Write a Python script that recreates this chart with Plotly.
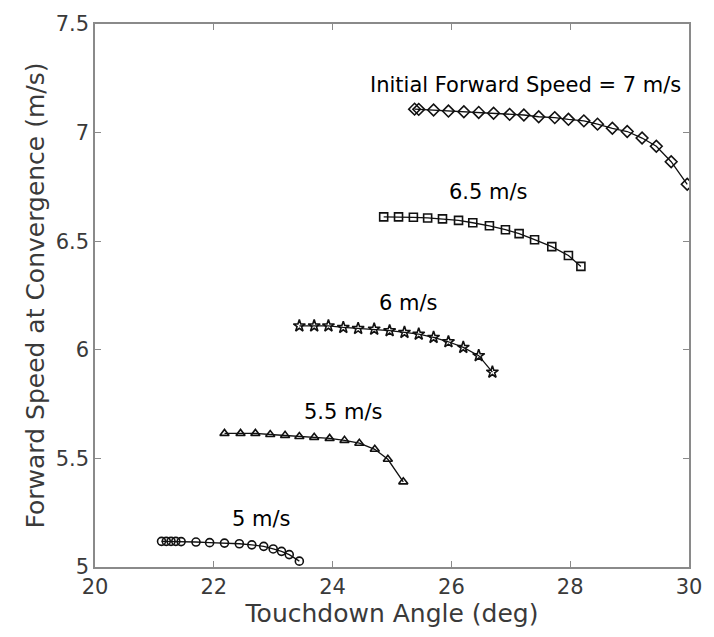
import plotly.graph_objects as go

# ---- data ----
x_7 = [25.38, 25.45, 25.70, 25.95, 26.21, 26.46, 26.71, 26.98, 27.22, 27.47,
       27.74, 27.97, 28.23, 28.46, 28.71, 28.96, 29.21, 29.45, 29.70, 29.97]
y_7 = [7.108, 7.107, 7.104, 7.099, 7.096, 7.093, 7.089, 7.084, 7.081, 7.073,
       7.069, 7.061, 7.054, 7.039, 7.020, 7.005, 6.975, 6.937, 6.866, 6.762]

x_65 = [24.86, 25.11, 25.36, 25.60, 25.85, 26.12, 26.36, 26.64, 26.91, 27.14,
        27.40, 27.69, 27.97, 28.18]
y_65 = [6.612, 6.612, 6.610, 6.607, 6.603, 6.596, 6.585, 6.571, 6.553, 6.535,
        6.507, 6.475, 6.434, 6.384]

x_6 = [23.44, 23.69, 23.93, 24.18, 24.43, 24.70, 24.96, 25.21, 25.45, 25.70,
       25.95, 26.20, 26.46, 26.69]
y_6 = [6.110, 6.110, 6.110, 6.103, 6.098, 6.095, 6.088, 6.080, 6.072, 6.057,
       6.037, 6.011, 5.973, 5.897]

x_55 = [22.18, 22.45, 22.70, 22.95, 23.20, 23.44, 23.69, 23.95, 24.20, 24.45,
        24.71, 24.93, 25.19]
y_55 = [5.615, 5.615, 5.615, 5.610, 5.606, 5.601, 5.597, 5.592, 5.583, 5.570,
        5.542, 5.496, 5.392]

x_5 = [21.12, 21.20, 21.28, 21.36, 21.45, 21.70, 21.93, 22.18, 22.43, 22.64,
       22.84, 23.00, 23.14, 23.27, 23.44]
y_5 = [5.118, 5.118, 5.118, 5.118, 5.117, 5.115, 5.112, 5.110, 5.107, 5.102,
       5.095, 5.083, 5.072, 5.057, 5.027]

series_labels = ["Initial Forward Speed = 7 m/s", "6.5 m/s", "6 m/s", "5.5 m/s", "5 m/s"]
x_ticks = [20, 22, 24, 26, 28, 30]
y_ticks = [5, 5.5, 6, 6.5, 7, 7.5]
y_tick_text = ["5", "5.5", "6", "6.5", "7", "7.5"]

# ---- figure ----
FONT = "DejaVu Sans"
INK = "#111111"

series = [
    (x_7, y_7, "diamond-open", 9),
    (x_65, y_65, "square-open", 8),
    (x_6, y_6, "star-open", 9),
    (x_55, y_55, "triangle-up-open", 8),
    (x_5, y_5, "circle-open", 8),
]

fig = go.Figure()
for xs, ys, sym, sz in series:
    fig.add_trace(go.Scatter(
        x=xs, y=ys, mode="lines+markers",
        line=dict(color=INK, width=1.3),
        marker=dict(symbol=sym, size=sz, color=INK, line=dict(width=1.6, color=INK)),
        showlegend=False, hoverinfo="skip",
    ))

label_pos = [(27.25, 7.218), (26.62, 6.726), (25.28, 6.216), (24.18, 5.715), (22.81, 5.223)]
for text, (lx, ly) in zip(series_labels, label_pos):
    fig.add_annotation(x=lx, y=ly, text=text, showarrow=False,
                       font=dict(family=FONT, size=21, color="#000000"),
                       xanchor="center", yanchor="middle")

axis_common = dict(
    showline=True, linecolor="#8a8a8a", linewidth=1.5, mirror="ticks",
    ticks="inside", ticklen=6, tickcolor="#8a8a8a", tickwidth=1,
    showgrid=False, zeroline=False,
    tickfont=dict(family=FONT, size=21, color="#3a3a3a"),
)

fig.update_xaxes(range=[20, 30], tickvals=x_ticks, ticktext=[str(t) for t in x_ticks],
                 title=dict(text="Touchdown Angle (deg)", standoff=2,
                            font=dict(family=FONT, size=25, color="#3a3a3a")),
                 **axis_common)
fig.update_yaxes(range=[5, 7.5], tickvals=y_ticks, ticktext=y_tick_text,
                 title=dict(text="Forward Speed at Convergence (m/s)", standoff=4,
                            font=dict(family=FONT, size=25, color="#3a3a3a")),
                 **axis_common)

fig.update_layout(
    width=714, height=637,
    margin=dict(l=95, r=14, t=18, b=70),
    paper_bgcolor="white", plot_bgcolor="white",
)

fig.write_html("out.html")
